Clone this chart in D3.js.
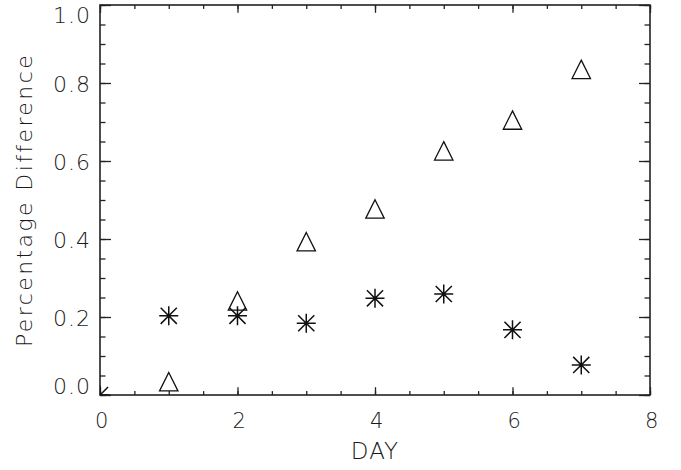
<!DOCTYPE html>
<html>
<head>
<meta charset="utf-8">
<script src="https://cdn.jsdelivr.net/npm/d3@7"></script>
<style>
  body { margin: 0; background: #fff; }
  text { font-family: "DejaVu Sans", sans-serif; font-weight: 200; fill: #1a1a1a; }
  .axis line { stroke: #222; stroke-width: 1.3; }
  .axis path { display: none; }
</style>
</head>
<body>
<div id="chart"></div>
<script>
// days and the two series
var days = [0, 1, 2, 3, 4, 5, 6, 7];
var starValues = [0, 0.203, 0.203, 0.184, 0.248, 0.259, 0.167, 0.077];
var triangleDays = [1, 2, 3, 4, 5, 6, 7];
var triangleValues = [0.034, 0.241, 0.393, 0.477, 0.626, 0.705, 0.835];

var xMajorTicks = [0, 2, 4, 6, 8];
var yMajorTicks = [0, 0.2, 0.4, 0.6, 0.8, 1.0];

var margin = {top: 5, right: 31, bottom: 75, left: 100},
    width = 681 - margin.left - margin.right,
    height = 470 - margin.top - margin.bottom;

var x = d3.scaleLinear().domain([0, 8]).range([0, width]);
var y = d3.scaleLinear().domain([0, 1]).range([height, 0]);

var svg = d3.select("#chart").append("svg")
    .attr("width", 681)
    .attr("height", 470)
  .append("g")
    .attr("transform", "translate(" + margin.left + "," + margin.top + ")");

svg.append("clipPath")
    .attr("id", "plotClip")
  .append("rect")
    .attr("width", width)
    .attr("height", height);

// minor tick positions
var xMinor = d3.range(0, 8.001, 0.5);
var yMinor = d3.range(0, 1.001, 0.05);

var xLen = height * 0.02, yLen = width * 0.02;

// bottom axis
svg.append("g")
    .attr("class", "axis")
    .attr("transform", "translate(0," + height + ")")
    .call(d3.axisBottom(x).tickValues(xMinor).tickSize(-xLen / 2).tickFormat(""));
var bottom = svg.append("g")
    .attr("class", "axis")
    .attr("transform", "translate(0," + height + ")")
    .call(d3.axisBottom(x).tickValues(xMajorTicks).tickSize(-xLen).tickPadding(18).tickFormat(d3.format("d")));
bottom.selectAll("text")
    .style("font-size", "21px")
    .attr("dx", "0.05em");

// top axis
svg.append("g")
    .attr("class", "axis")
    .call(d3.axisTop(x).tickValues(xMinor).tickSize(-xLen / 2).tickFormat(""));
svg.append("g")
    .attr("class", "axis")
    .call(d3.axisTop(x).tickValues(xMajorTicks).tickSize(-xLen).tickFormat(""));

// left axis
svg.append("g")
    .attr("class", "axis")
    .call(d3.axisLeft(y).tickValues(yMinor).tickSize(-yLen / 2).tickFormat(""));
var left = svg.append("g")
    .attr("class", "axis")
    .call(d3.axisLeft(y).tickValues(yMajorTicks).tickSize(-yLen).tickPadding(9).tickFormat(d3.format(".1f")));
left.selectAll("text")
    .style("font-size", "22px")
    .style("letter-spacing", "1px")
    .attr("dy", function(d) {
      // end labels are kept inside the box height, as in the picture
      if (d == 0) return "-0.05em";
      if (d == 1) return "0.78em";
      return "0.4em";
    });

// right axis
svg.append("g")
    .attr("class", "axis")
    .attr("transform", "translate(" + width + ",0)")
    .call(d3.axisRight(y).tickValues(yMinor).tickSize(-yLen / 2).tickFormat(""));
svg.append("g")
    .attr("class", "axis")
    .attr("transform", "translate(" + width + ",0)")
    .call(d3.axisRight(y).tickValues(yMajorTicks).tickSize(-yLen).tickFormat(""));

// frame
svg.append("rect")
    .attr("width", width)
    .attr("height", height)
    .attr("fill", "none")
    .attr("stroke", "#222")
    .attr("stroke-width", 1.6);

// axis titles
svg.append("text")
    .attr("x", width / 2)
    .attr("y", height + 64)
    .attr("text-anchor", "middle")
    .style("font-size", "23px")
    .style("letter-spacing", "1px")
    .text("DAY");

svg.append("text")
    .attr("transform", "translate(" + (-68) + "," + (height / 2) + ") rotate(-90)")
    .attr("text-anchor", "middle")
    .style("font-size", "22px")
    .style("letter-spacing", "2.4px")
    .text("Percentage Difference");

var marks = svg.append("g").attr("clip-path", "url(#plotClip)");

// asterisks
var r = 9.5, dg = 0.85 * r;
var starPath = "M" + (-r) + ",0L" + r + ",0" +
    "M0," + (-r) + "L0," + r +
    "M" + (-dg) + "," + (-dg) + "L" + dg + "," + dg +
    "M" + (-dg) + "," + dg + "L" + dg + "," + (-dg);

marks.selectAll(".star")
    .data(days)
  .enter().append("path")
    .attr("class", "star")
    .attr("transform", function(d, i) { return "translate(" + x(d) + "," + y(starValues[i]) + ")"; })
    .attr("d", starPath)
    .attr("fill", "none")
    .attr("stroke", "#111")
    .attr("stroke-width", 1.5);

// triangles
var t = 9.2;
var triPath = "M0," + (-t) + "L" + t + "," + t + "L" + (-t) + "," + t + "Z";

marks.selectAll(".tri")
    .data(triangleDays)
  .enter().append("path")
    .attr("class", "tri")
    .attr("transform", function(d, i) { return "translate(" + x(d) + "," + y(triangleValues[i]) + ")"; })
    .attr("d", triPath)
    .attr("fill", "none")
    .attr("stroke", "#111")
    .attr("stroke-width", 1.3);
</script>
</body>
</html>
